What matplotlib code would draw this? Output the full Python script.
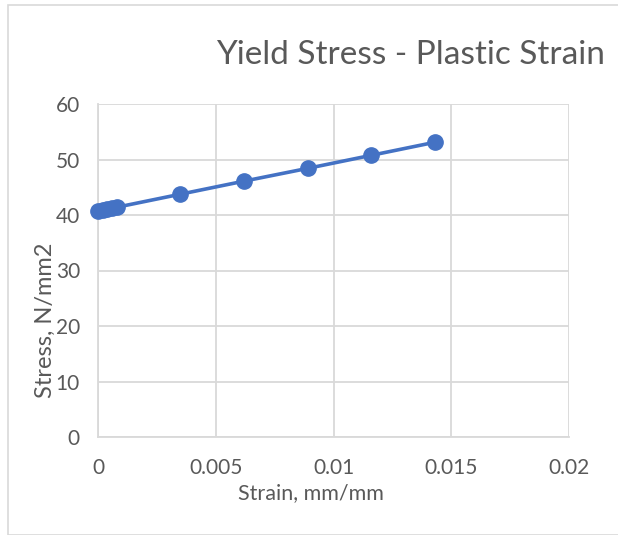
import matplotlib.pyplot as plt
from matplotlib.patches import Rectangle

# Yield stress vs plastic strain
strain = [0.0, 0.0002, 0.0004, 0.0006, 0.0008, 0.0035, 0.0062, 0.0089, 0.0116, 0.0143]
stress = [40.7, 40.9, 41.05, 41.2, 41.4, 43.75, 46.1, 48.4, 50.75, 53.1]

x_ticks = [0, 0.005, 0.01, 0.015, 0.02]
x_labels = ['0', '0.005', '0.01', '0.015', '0.02']
y_ticks = [0, 10, 20, 30, 40, 50, 60]

plt.rcParams['font.family'] = ['Lato', 'DejaVu Sans']
text_color = '#595959'
grid_color = '#d9d9d9'

fig = plt.figure(figsize=(6.18, 5.35), dpi=100)
W, H = 618, 535

# chart area border
fig.patches.append(Rectangle((8 / W, 0), 1, 1 - 5 / H, transform=fig.transFigure,
                             fill=False, edgecolor=grid_color, linewidth=1.2))

ax = fig.add_axes([98 / W, 1 - 437 / H, (569 - 98) / W, (437 - 104) / H])
ax.plot(strain, stress, color='#4472C4', linewidth=2.6, marker='o',
        markersize=11, zorder=3, clip_on=False)

ax.set_xlim(0, 0.02)
ax.set_ylim(0, 60)
ax.set_xticks(x_ticks)
ax.set_xticklabels(x_labels)
ax.set_yticks(y_ticks)
ax.grid(True, color=grid_color, linewidth=1.3)
ax.set_axisbelow(True)
for side in ['top', 'right']:
    ax.spines[side].set_visible(False)
for side in ['left', 'bottom']:
    ax.spines[side].set_color(grid_color)
    ax.spines[side].set_linewidth(1.3)
ax.tick_params(length=0, labelsize=15, labelcolor=text_color)
ax.tick_params(axis='x', pad=15)
ax.tick_params(axis='y', pad=13)

fig.text(311 / W, 1 - 493 / H, 'Strain, mm/mm', fontsize=15.5, color=text_color,
         ha='center', va='center')
fig.text(45 / W, 1 - 320 / H, 'Stress, N/mm2', rotation=90, fontsize=17,
         color=text_color, ha='center', va='center')
fig.text(410 / W, 1 - 55 / H, 'Yield Stress - Plastic Strain', fontsize=24,
         color=text_color, ha='center', va='center')

fig.savefig('out.png', dpi=100)
